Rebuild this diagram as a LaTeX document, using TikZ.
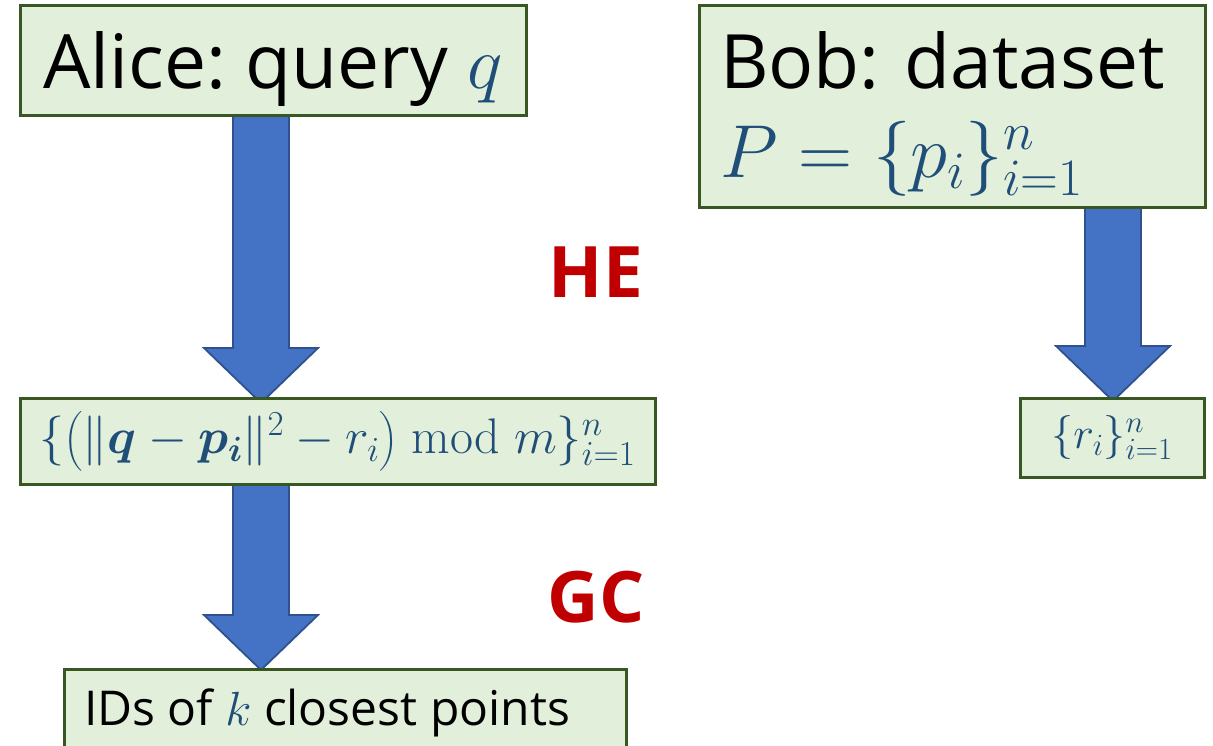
\documentclass[tikz,border=0pt]{standalone}
\usepackage{fix-cm}
\usepackage{amsmath,bm}
\usepackage[no-math]{fontspec}
\setmainfont{Open Sans}
\frenchspacing
\usetikzlibrary{calc}
\definecolor{boxfill}{HTML}{E2EFDA}
\definecolor{boxline}{HTML}{385723}
\definecolor{arrowfill}{HTML}{4472C4}
\definecolor{arrowline}{HTML}{2F528F}
\definecolor{labelred}{HTML}{C00000}
\definecolor{mathblue}{HTML}{1F4E79}
\pgfdeclarelayer{back}
\pgfsetlayers{back,main}
\newcommand\mb[1]{\textcolor{mathblue}{$#1$}}
% block arrow: centre x (px), start anchor, tip anchor
\newcommand\blockarrow[3]{%
  \path[blockarrow] let \p1=(#2), \p2=(#3) in
    ({(#1-28)*1pt},\y1) -- ({(#1+28)*1pt},\y1) -- ({(#1+28)*1pt},\y2+55pt)
    -- ({(#1+57)*1pt},\y2+55pt) -- ({#1*1pt},\y2) -- ({(#1-57)*1pt},\y2+55pt)
    -- ({(#1-28)*1pt},\y2+55pt) -- cycle;}
\tikzset{
  stagebox/.style={draw=boxline, fill=boxfill, line width=3pt, rectangle,
    inner sep=0pt, outer sep=0pt},
  blockarrow/.style={fill=arrowfill, draw=arrowline, line width=1.8pt, line join=miter},
  protolabel/.style={text=labelred, font=\fontsize{71}{80}\selectfont\bfseries}
}
\begin{document}
\begin{tikzpicture}[x=1pt, y=-1pt]
\useasboundingbox (0,0) rectangle (1213,745);
\clip (0,0) rectangle (1213,745);

\node[stagebox, anchor=north west, minimum width=506pt,
  text height=83pt, text depth=27pt, inner xsep=0pt,
  font=\fontsize{75}{86}\selectfont] (alice) at (20,5) {Alice: query \mb{q}};

\node[stagebox, anchor=north west, text width=464pt, align=left,
  inner xsep=21pt, text height=83pt, text depth=119pt,
  font=\fontsize{75}{89}\selectfont]
  (bob) at (699,5) {Bob: dataset\\ \mb{P=\{p_i\}_{i=1}^{n}}};

\node[stagebox, minimum width=635pt, minimum height=86pt,
  font=\fontsize{50}{56}\selectfont] (mid) at (337.5,441)
  {\mb{\{\bigl(\|\bm{q}-\bm{p_i}\|^2-r_i\bigr)\bmod m\}_{i=1}^{n}}};

\node[stagebox, minimum width=184pt, minimum height=79pt,
  font=\fontsize{44}{50}\selectfont] (r) at (1112,437.5)
  {\mb{\{r_i\}_{i=1}^{n}}};

\node[stagebox, anchor=north west, minimum width=562pt,
  text height=56pt, text depth=64pt, inner xsep=0pt,
  font=\fontsize{48}{54}\selectfont] (ids) at (64,669)
  {IDs of \mb{k} closest points\hspace*{36pt}};

\begin{pgfonlayer}{back}
\blockarrow{261}{alice.south}{[yshift=-5pt]mid.north}
\blockarrow{261}{mid.south}{[yshift=-1pt]ids.north}
\blockarrow{1113}{bob.south}{[yshift=-3pt]r.north}
\end{pgfonlayer}

\node[protolabel] (he) at (596,272) {HE};
\node[protolabel] (gc) at (596,597) {GC};
\end{tikzpicture}
\end{document}
